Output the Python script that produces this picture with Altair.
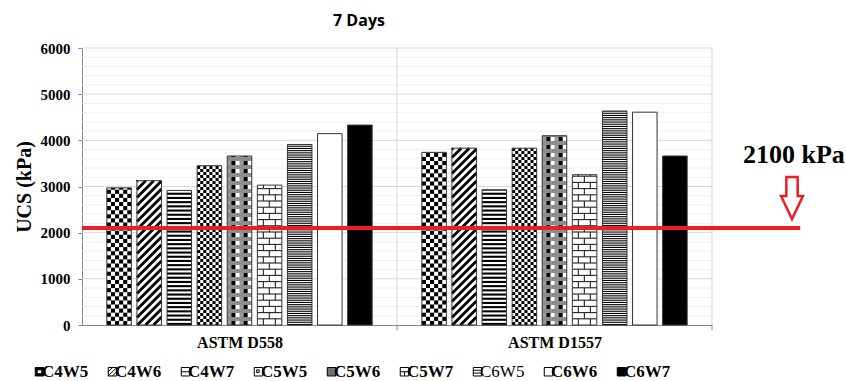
import math
import altair as alt
import pandas as pd

# ---- data -------------------------------------------------------------
GROUPS = ["ASTM D558", "ASTM D1557"]
SERIES = ["C4W5", "C4W6", "C4W7", "C5W5", "C5W6", "C5W7", "C6W5", "C6W6", "C6W7"]
UCS_D558 = [2970, 3125, 2915, 3450, 3660, 3030, 3910, 4145, 4330]
UCS_D1557 = [3740, 3830, 2930, 3830, 4100, 3255, 4635, 4610, 3660]
Y_TICKS = [0, 1000, 2000, 3000, 4000, 5000, 6000]
THRESHOLD = 2100
TITLE = "7 Days"

# ---- layout ------------------------------------------------------------
W, H = 630, 277                 # plot area in pixels
X_DOM, Y_DOM = [0, 2], [0, 6000]
PX_X = W / (X_DOM[1] - X_DOM[0])   # pixels per category unit
KPA_PX = Y_DOM[1] / H              # kPa per pixel
PITCH = 30.1 / PX_X                # distance between neighbouring bars
BAR_W = 24.5 / PX_X                # bar width in x units
BW = BAR_W * PX_X                  # bar width in pixels

xs = alt.Scale(domain=X_DOM, nice=False, zero=False)
ys = alt.Scale(domain=Y_DOM, nice=False, zero=False)

rows = []
for g, vals in enumerate([UCS_D558, UCS_D1557]):
    for i, (s, v) in enumerate(zip(SERIES, vals)):
        c = g + 0.5 + (i - 4) * PITCH
        rows.append(dict(group=GROUPS[g], series=s, value=v, center=c,
                         x0=c - BAR_W / 2, x1=c + BAR_W / 2, mid=v / 2,
                         fill="black" if s == "C6W7" else "white"))
bars = pd.DataFrame(rows)

# ---- fill patterns, built in bar-local pixel units ---------------------
rects, rules = [], []


def add_rect(x0, u0, u1, v0, v1, color):
    rects.append(dict(x=x0 + u0 / PX_X, x2=x0 + u1 / PX_X,
                      y=v0 * KPA_PX, y2=v1 * KPA_PX, c=color))


def add_rule(x0, u0, v0, u1, v1, color, w):
    rules.append(dict(x=x0 + u0 / PX_X, x2=x0 + u1 / PX_X,
                      y=v0 * KPA_PX, y2=v1 * KPA_PX, c=color, w=w))


def checker(x0, h, cols, ch):
    cw = BW / cols
    for r in range(math.ceil(h / ch)):
        v0, v1 = r * ch, min(h, (r + 1) * ch)
        for c in range(cols):
            if (r + c) % 2 == 0:
                add_rect(x0, c * cw, (c + 1) * cw, v0, v1, "black")


def diagonal(x0, h, period=8.0, sw=2.8):
    c = -BW
    while c < h:
        u0, u1 = max(0.0, -c), min(BW, h - c)
        if u1 - u0 > 0.6:
            add_rule(x0, u0, u0 + c, u1, u1 + c, "black", sw)
        c += period


def hstripes(x0, h, period, thick, color):
    k = 0
    while k * period < h:
        v0 = k * period
        add_rect(x0, 0, BW, v0, min(h, v0 + thick), color)
        k += 1


def plaid(x0, h, period=8.0):
    cw = BW / 6
    cells = ["#9a9a9a", "black", "white", "#9a9a9a", "black", "white"]
    k = 0
    while k * period < h:
        v0 = k * period
        v1 = min(h, v0 + period / 2)
        for c, col in enumerate(cells):
            if col != "white":
                add_rect(x0, c * cw, (c + 1) * cw, v0, v1, col)
        if v1 < h:
            add_rect(x0, 0, BW, v1, min(h, v0 + period), "#8c8c8c")
        k += 1


def brick(x0, h, rh=6.2):
    k = 0
    while k * rh < h:
        v0, v1 = k * rh, min(h, (k + 1) * rh)
        if k > 0:
            add_rule(x0, 0, v0, BW, v0, "#222222", 1.1)
        for u in ([6.0, 18.0] if k % 2 == 0 else [12.0]):
            add_rule(x0, u, v0, u, v1, "#222222", 1.1)
        k += 1


for r in rows:
    x0, h = r["x0"], r["value"] / KPA_PX
    s = r["series"]
    if s == "C4W5":
        checker(x0, h, 6, 4.1)
    elif s == "C4W6":
        diagonal(x0, h)
    elif s == "C4W7":
        hstripes(x0, h, 4.2, 2.1, "black")
    elif s == "C5W5":
        checker(x0, h, 8, 3.0)
    elif s == "C5W6":
        plaid(x0, h)
    elif s == "C5W7":
        brick(x0, h)
    elif s == "C6W5":
        hstripes(x0, h, 2.2, 1.1, "black")

rect_df = pd.DataFrame(rects)
rule_df = pd.DataFrame(rules)

# ---- legend swatches (custom symbol paths) ------------------------------
SQ = "M-1,-1H1V1H-1Z"
ICONS = [
    SQ + " M-0.55,-0.45V0.45H0.55V-0.45Z",
    SQ + " M-1,0L0,-1 M-1,1L1,-1 M0,1L1,0",
    SQ + " M-1,0H1",
    SQ + " M-0.45,-0.45H0.15V0.15H-0.45Z",
    SQ,
    SQ + " M-1,0H1 M0,0V1",
    SQ + " M-1,-0.35H1 M-1,0.3H1",
    SQ,
    SQ,
]
ICON_FILLS = ["black", "white", "white", "white", "#707070",
              "white", "white", "white", "black"]

LEG = alt.Legend(
    title=None, orient="none", legendX=-51, legendY=315,
    direction="horizontal", columns=9, columnPadding=15, padding=0,
    labelFont="Liberation Serif", labelFontSize=17,
    labelFontWeight=alt.ExprRef(expr="datum.label == 'C6W5' ? 'normal' : 'bold'"),
    labelColor="black", labelOffset=alt.ExprRef(expr="-6"),
    symbolSize=72, symbolStrokeWidth=1,
)

# ---- axes (the same definition on every layer so they merge cleanly) ----
label_expr = f"datum.value < 1 ? '{GROUPS[0]}' : '{GROUPS[1]}'"
X_AXIS = alt.Axis(
    values=[0.5, 1.5], labelExpr=label_expr, ticks=False, grid=False,
    domainColor="#868686", labelFont="Liberation Serif", labelFontSize=16,
    labelFontWeight="bold", labelColor="black", labelPadding=9, title=None)
Y_AXIS = alt.Axis(
    values=Y_TICKS, format="d", grid=False, domainColor="#868686",
    tickColor="#868686", tickSize=4, labelFont="Liberation Serif",
    labelFontSize=15, labelFontWeight="bold", labelColor="black",
    labelPadding=8, title="UCS (kPa)", titleFont="Liberation Serif",
    titleFontSize=20, titleFontWeight="bold", titleColor="black",
    titlePadding=6)


def X(field=None, **kw):
    if field is None:
        return alt.X(scale=xs, axis=X_AXIS, **kw)
    return alt.X(field, scale=xs, axis=X_AXIS, **kw)


def Y(field=None, **kw):
    if field is None:
        return alt.Y(scale=ys, axis=Y_AXIS, **kw)
    return alt.Y(field, scale=ys, axis=Y_AXIS, **kw)


# ---- layers -------------------------------------------------------------
minor = pd.DataFrame({"v": [v for v in range(200, 6001, 200) if v % 1000]})
major = pd.DataFrame({"v": [v for v in Y_TICKS if v > 0]})
seps = pd.DataFrame({"x": [1.0, 2.0]})

minor_grid = alt.Chart(minor).mark_rule(color="#efefef", strokeWidth=1).encode(y=Y("v:Q"))
major_grid = alt.Chart(major).mark_rule(color="#d9d9d9", strokeWidth=1).encode(y=Y("v:Q"))
vsep = alt.Chart(seps).mark_rule(color="#d9d9d9", strokeWidth=1).encode(x=X("x:Q"))
vticks = alt.Chart(seps).mark_rule(color="#868686", strokeWidth=1).encode(
    x=X("x:Q"), y=alt.value(H), y2=alt.value(H + 5))

legend_pts = alt.Chart(bars).mark_point(filled=True, opacity=1).encode(
    x=X("center:Q"),
    y=Y("mid:Q"),
    shape=alt.Shape("series:N", scale=alt.Scale(domain=SERIES, range=ICONS), legend=LEG),
    fill=alt.Fill("series:N", scale=alt.Scale(domain=SERIES, range=ICON_FILLS), legend=LEG),
    stroke=alt.Stroke("series:N", scale=alt.Scale(domain=SERIES, range=["black"] * 9), legend=LEG),
    strokeWidth=alt.value(1),
)

bar_fill = alt.Chart(bars).mark_rect(strokeWidth=0).encode(
    x=X("x0:Q"), x2="x1:Q",
    y=Y("value:Q"), y2=alt.Y2(datum=0),
    fill=alt.Fill("fill:N", scale=None),
)
pattern_rects = alt.Chart(rect_df).mark_rect(strokeWidth=0).encode(
    x=X("x:Q"), x2="x2:Q",
    y=Y("y:Q"), y2="y2:Q",
    fill=alt.Fill("c:N", scale=None),
)
pattern_rules = alt.Chart(rule_df).mark_rule(strokeCap="butt").encode(
    x=X("x:Q"), x2="x2:Q",
    y=Y("y:Q"), y2="y2:Q",
    stroke=alt.Stroke("c:N", scale=None),
    strokeWidth=alt.StrokeWidth("w:Q", scale=None),
)
bar_outline = alt.Chart(bars).mark_rect(fillOpacity=0, stroke="#333333", strokeWidth=1).encode(
    x=X("x0:Q"), x2="x1:Q",
    y=Y("value:Q"), y2=alt.Y2(datum=0),
)

RED = "#ee1d23"
thr = pd.DataFrame({"v": [THRESHOLD], "label": [f"{THRESHOLD} kPa"]})
red_line = alt.Chart(thr).mark_rule(color=RED, strokeWidth=4).encode(
    y=Y("v:Q"), x=X(datum=0), x2=alt.X2(datum=2.28),
)
ARROW = "M-0.27,-1L0.27,-1L0.27,-0.1L0.52,-0.1L0,1L-0.52,-0.1L-0.27,-0.1Z"
arrow = alt.Chart(thr).mark_point(
    shape=ARROW, size=1764, filled=True, fill="white", stroke=RED,
    strokeWidth=2.5, opacity=1).encode(x=X(datum=2.254), y=Y(datum=2750))
thr_text = alt.Chart(thr).mark_text(
    font="Liberation Serif", fontSize=26, fontWeight="bold", color="black",
    align="center", baseline="alphabetic").encode(
    text="label:N", x=X(datum=2.26), y=Y(datum=3500))

title = alt.Chart(pd.DataFrame({"t": [TITLE]})).mark_text(
    font="Open Sans", fontSize=16, fontWeight="bold", color="black",
    align="center", baseline="alphabetic").encode(
    text="t:N", x=alt.value(277), y=alt.value(-22))

chart = alt.layer(
    minor_grid, major_grid, vsep, legend_pts, bar_fill, pattern_rects,
    pattern_rules, bar_outline, vticks, red_line, arrow, thr_text, title,
).properties(
    width=W, height=H,
    autosize=alt.AutoSizeParams(type="none"),
    padding={"left": 82, "top": 48, "right": 134, "bottom": 56},
    background="white",
).configure_view(stroke=None)

chart.save("out.html", embed_options={"renderer": "svg", "actions": False})
